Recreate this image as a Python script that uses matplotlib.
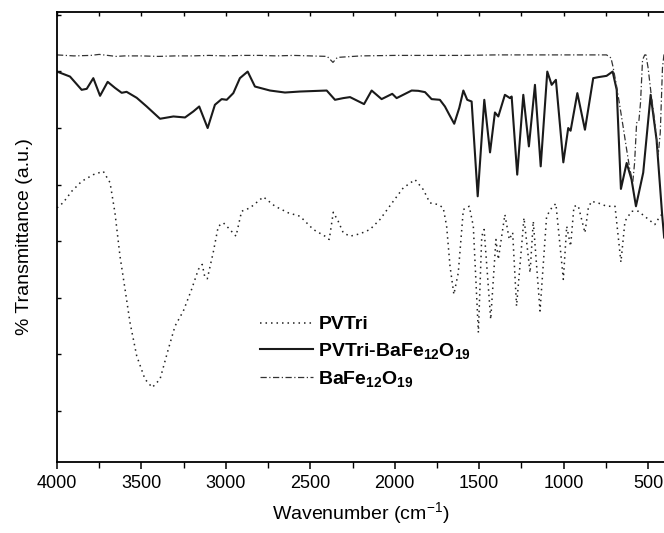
import matplotlib
matplotlib.use("Agg")
import matplotlib.pyplot as plt
from matplotlib.ticker import MultipleLocator, NullFormatter

plt.rcParams['font.family'] = ['Liberation Sans', 'DejaVu Sans']
plt.rcParams['mathtext.fontset'] = 'custom'
plt.rcParams['mathtext.rm'] = 'Liberation Sans'
plt.rcParams['mathtext.bf'] = 'Liberation Sans:bold'
plt.rcParams['mathtext.it'] = 'Liberation Sans:italic'

# PVTri (dotted)
pvtri_wn = [4000, 3963, 3913, 3854, 3785, 3726, 3686, 3657, 3627, 3597, 3568, 3528, 3479, 3436,
            3390, 3341, 3301, 3252, 3203, 3163, 3140, 3124, 3110, 3075, 3045, 3015, 2986, 2940,
            2907, 2857, 2778, 2709, 2630, 2561, 2482, 2413, 2388, 2364, 2335, 2305, 2265, 2206,
            2147, 2088, 2009, 1950, 1880, 1831, 1792, 1742, 1713, 1693, 1673, 1650, 1624, 1594,
            1559, 1535, 1505, 1485, 1471, 1432, 1401, 1387, 1367, 1348, 1322, 1302, 1279, 1235,
            1199, 1180, 1140, 1101, 1071, 1046, 1002, 982, 959, 939, 914, 874, 854, 835, 785,
            746, 696, 661, 637, 598, 558, 509, 460, 430, 405]
pvtri_t = [254.7, 260, 271.3, 281.3, 288, 291.3, 280, 250, 206.3, 173, 140, 106.3, 83, 74.7,
           83, 113, 136.3, 151.3, 173, 193, 198, 184.7, 183.7, 210, 236.3, 239.7, 234.7, 226.3,
           251.3, 254.7, 265.7, 256.3, 249.7, 246.3, 233, 226.3, 223, 250.3, 241.3, 229.7, 226.3, 228.7,
           233, 243, 261.3, 274.7, 283, 273, 259.7, 258, 254.7, 236.3, 196.3, 168, 189.7, 253,
           256.3, 236.3, 129.7, 226.3, 233, 143, 223, 203, 226.3, 248, 223, 230, 156.3, 244.7,
           189.7, 241.3, 151.3, 246.3, 254.7, 259, 183, 236.3, 216.3, 256.3, 257, 229.7, 254.7, 261.3, 259,
           256.3, 256.3, 200.3, 241.3, 251.3, 251.3, 244.7, 238, 246.3, 250]

# PVTri-BaFe12O19 (solid)
comp_wn = [4000, 3923, 3854, 3824, 3785, 3745, 3700, 3657, 3617, 3588, 3528, 3469, 3390, 3311,
           3242, 3193, 3158, 3108, 3065, 3025, 2995, 2956, 2917, 2871, 2828, 2739, 2650, 2561,
           2403, 2354, 2305, 2265, 2182, 2137, 2078, 2015, 1989, 1900, 1861, 1821, 1782, 1733,
           1703, 1677, 1648, 1618, 1594, 1571, 1545, 1509, 1470, 1436, 1407, 1387, 1348, 1318,
           1308, 1275, 1239, 1206, 1170, 1136, 1097, 1071, 1046, 1002, 973, 959, 919, 874, 825,
           795, 746, 710, 686, 661, 627, 598, 572, 529, 485, 450, 417, 405]
comp_t = [391.3, 386.3, 373, 374, 384.7, 367, 381, 375, 370, 371, 365, 356.3, 344, 346.3,
          345.3, 351.3, 356.3, 334.7, 358, 363.7, 363, 369.7, 384.7, 391.3, 376.3, 372.3, 370.3, 371.3,
          372.3, 363, 364.7, 365.7, 358.7, 372.3, 363.7, 369, 364.7, 372.3, 372, 370.7, 363.7, 363,
          356.3, 348, 339, 355, 372.3, 363, 361.3, 266.3, 363, 310.3, 350.3, 346.3, 368, 364.7,
          366.3, 288, 368, 316.3, 378, 296.3, 391.3, 378, 383, 300.3, 334.7, 332, 369.7, 333, 384.7,
          385.7, 387, 391.3, 373, 273.7, 299.7, 283, 256.3, 290, 368, 323, 248, 225]

# BaFe12O19 (dash-dot)
bafe_wn = [4000, 3900, 3800, 3750, 3650, 3600, 3500, 3400, 3300, 3200, 3100, 3000, 2900, 2800,
           2700, 2600, 2500, 2400, 2366, 2340, 2200, 2000, 1800, 1600, 1400, 1200, 1000, 800,
           746, 720, 708, 690, 667, 647, 627, 610, 591, 580, 568, 555, 545, 533, 520, 513, 500,
           483, 460, 440, 428, 415, 405]
bafe_t = [408, 407, 407.5, 408.5, 406.5, 407, 407, 406.5, 407, 407, 407.5, 407, 407.5, 407.5,
          407, 407.5, 407, 406.5, 400.5, 405.5, 407, 407.5, 407.5, 407.5, 408, 408, 408, 408,
          408, 405, 396.3, 380, 356.3, 335, 313, 295, 280, 300, 340, 341, 360, 403, 408, 408, 395,
          370, 340, 308, 330, 395, 410]

xticks = [4000, 3500, 3000, 2500, 2000, 1500, 1000, 500]
yticks = [51, 107.75, 164.5, 221.25, 278, 334.75, 391.5, 448.25]

fig = plt.figure(figsize=(6.64, 5.33), dpi=100)
ax = fig.add_axes([57 / 664, 1 - 462 / 533, 608 / 664, 450 / 533])

ax.plot(pvtri_wn, pvtri_t, color='#222222', lw=1.1, linestyle=(0, (1, 2.6)), label='PVTri')
ax.plot(comp_wn, comp_t, color='#1a1a1a', lw=1.5, linestyle='-',
        label=r'PVTri-BaFe$_{\mathbf{12}}$O$_{\mathbf{19}}$')
ax.plot(bafe_wn, bafe_t, color='#333333', lw=0.9, linestyle=(0, (5, 2, 1, 2)),
        label=r'BaFe$_{\mathbf{12}}$O$_{\mathbf{19}}$')

ax.set_xlim(4000, 400)
ax.set_ylim(0, 451)
ax.set_xticks(xticks)
ax.set_xticklabels([str(v) for v in xticks])
ax.xaxis.set_minor_locator(MultipleLocator(250))
ax.set_yticks(yticks)
ax.yaxis.set_major_formatter(NullFormatter())

ax.tick_params(axis='x', which='major', direction='out', length=5, width=1.1,
               labelsize=13, pad=4, top=False)
ax.tick_params(axis='x', which='minor', direction='out', length=4, width=1.0, top=False)
ax.tick_params(axis='y', which='major', direction='in', length=3, width=1.0, right=False)

sec = ax.secondary_xaxis('top')
sec.set_xticks(xticks)
sec.xaxis.set_minor_locator(MultipleLocator(250))
sec.tick_params(axis='x', which='both', direction='in', length=3, width=1.0, labeltop=False)
sec.spines['top'].set_visible(False)

for s in ax.spines.values():
    s.set_linewidth(1.3)

ax.set_xlabel(r'Wavenumber (cm$^{-1}$)', fontsize=14, labelpad=6)
ax.set_ylabel('% Transmittance (a.u.)', fontsize=14, labelpad=14)

leg = ax.legend(loc='upper left', bbox_to_anchor=(0.334, 0.325), frameon=False,
                prop={'weight': 'bold', 'size': 14}, handlelength=2.7, handletextpad=0.3,
                labelspacing=0.4, borderaxespad=0, borderpad=0)

fig.savefig('out.png', dpi=100)
